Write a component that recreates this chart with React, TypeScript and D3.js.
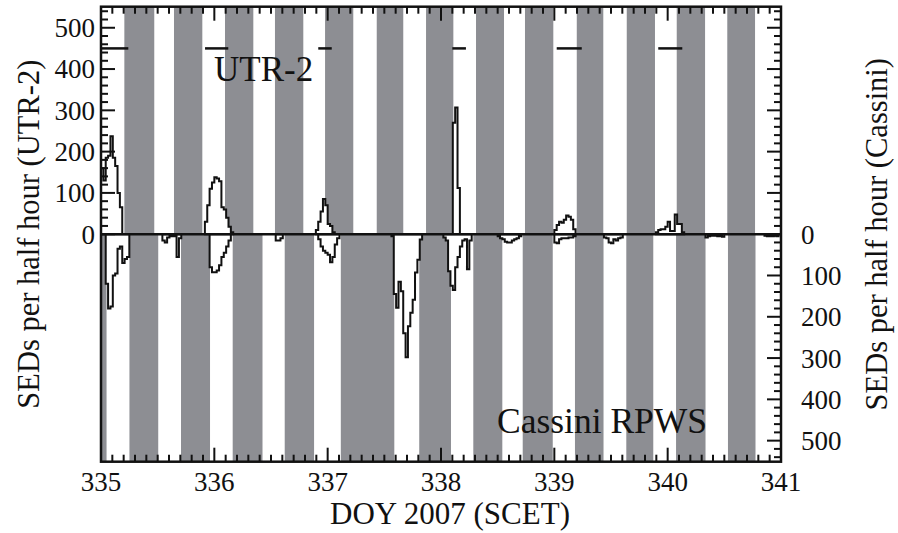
import * as d3 from "d3";

// DOY intervals where the storm is hidden (gray)
const utrGrayStart = [335.206, 335.644, 336.094, 336.535, 336.977, 337.433, 337.868, 338.309, 338.741, 339.198, 339.639, 340.080, 340.526];
const utrGrayEnd = [335.470, 335.894, 336.344, 336.785, 337.226, 337.667, 338.109, 338.556, 338.991, 339.432, 339.888, 340.330, 340.771];
const casGrayStart = [334.95, 335.251, 335.706, 336.162, 336.621, 337.116, 337.808, 338.285, 338.721, 339.182, 339.635, 340.074, 340.532];
const casGrayEnd = [335.049, 335.505, 335.962, 336.425, 336.880, 337.588, 338.088, 338.541, 338.986, 339.434, 339.873, 340.334, 340.775];

// UTR-2 observing windows (drawn at 450)
const obsStart = [334.99, 335.918, 336.917, 338.10, 339.021, 339.917];
const obsEnd = [335.241, 336.123, 337.036, 338.22, 339.242, 340.129];

// half-hour bins, first bin index counted from DOY 335.0
const utrBursts = [
  { bin: 0, values: [160, 130, 185, 190, 237, 185, 165, 100, 65] },
  { bin: 44, values: [30, 70, 110, 125, 138, 135, 128, 65, 60, 40, 18, 5] },
  { bin: 91, values: [10, 30, 55, 85, 70, 25, 20, 5] },
  { bin: 149, values: [270, 307, 112] },
  { bin: 192, values: [10, 22, 30, 28, 35, 45, 42, 35, 12] },
  { bin: 235, values: [5, 10, 12, 12, 18, 30, 8, 8, 48, 25, 25, 5] },
];
const casBursts = [
  { bin: 2, values: [120, 180, 175, 100, 95, 35, 30, 70, 60, 55] },
  { bin: 26, values: [15, 20, 8, 5, 5, 5, 55, 10] },
  { bin: 46, values: [80, 92, 92, 88, 75, 55, 45, 30, 15] },
  { bin: 74, values: [15, 15, 10] },
  { bin: 92, values: [12, 30, 40, 45, 50, 68, 55, 25, 10] },
  { bin: 123, values: [5, 145, 178, 115, 138, 240, 298, 223, 190, 159, 93, 62, 13] },
  { bin: 145, values: [8, 15, 90, 125, 135, 80, 55, 30, 15, 12, 85, 15] },
  { bin: 168, values: [5, 10, 12, 18, 20, 20, 15, 12, 10, 5] },
  { bin: 192, values: [20, 22, 12, 10, 10, 10, 8, 8, 5] },
  { bin: 213, values: [8, 10, 20, 22, 12, 15, 10, 8] },
  { bin: 256, values: [8, 5, 4, 4, 4, 5, 5, 6] },
  { bin: 281, values: [4, 5, 5, 5, 4, 5] },
];

const dayTicks = [335, 336, 337, 338, 339, 340, 341];
const countTicks = [0, 100, 200, 300, 400, 500];

const W = 898, H = 533;
const GRAY = "#8d8e93";
const FONT = "'Liberation Serif', 'Times New Roman', serif";
const BIN = 1 / 48;

export default function App() {
  const x = d3.scaleLinear().domain([335, 341]).range([101, 781]);
  const y = d3.scaleLinear().domain([-551, 551]).range([461.7, 6.7]);
  const y0 = y(0);

  const step = d3.line<[number, number]>()
    .x(d => x(d[0]))
    .y(d => y(d[1]))
    .curve(d3.curveStepAfter);

  const burstPath = (b: { bin: number; values: number[] }, sign: number) => {
    const s = 335 + b.bin * BIN;
    const pts: [number, number][] = [[s, 0]];
    b.values.forEach((v, i) => pts.push([s + i * BIN, sign * v]));
    pts.push([s + b.values.length * BIN, 0]);
    return step(pts) + "Z";
  };

  const clipX = (t: number) => Math.max(x.range()[0], Math.min(x.range()[1], x(t)));

  const minorX = d3.range(0, 61).map(i => 335 + i / 10);
  const minorY = d3.range(-540, 541, 20);

  return (
    <svg width={W} height={H} style={{ position: "absolute", left: 0, top: 0, background: "#fff" }}
      fontFamily={FONT}>
      {utrGrayStart.map((s, i) => (
        <rect key={"ug" + i} x={clipX(s)} y={y(551)} width={clipX(utrGrayEnd[i]) - clipX(s)}
          height={y0 - y(551)} fill={GRAY} />
      ))}
      {casGrayStart.map((s, i) => (
        <rect key={"cg" + i} x={clipX(s)} y={y0} width={clipX(casGrayEnd[i]) - clipX(s)}
          height={y(-551) - y0} fill={GRAY} />
      ))}

      {utrBursts.map((b, i) => (
        <path key={"ub" + i} d={burstPath(b, 1)} fill="#fff" stroke="#111" strokeWidth={2} />
      ))}
      {casBursts.map((b, i) => (
        <path key={"cb" + i} d={burstPath(b, -1)} fill="#fff" stroke="#111" strokeWidth={2} />
      ))}

      <line x1={x(335)} x2={x(341)} y1={y0} y2={y0} stroke="#111" strokeWidth={2.5} />

      {obsStart.map((s, i) => (
        <line key={"ob" + i} x1={clipX(s)} x2={clipX(obsEnd[i])} y1={y(450)} y2={y(450)}
          stroke="#111" strokeWidth={2.5} />
      ))}

      {/* ticks */}
      {minorX.map((t, i) => {
        const major = i % 10 === 0;
        const len = major ? 14 : 7;
        return (
          <g key={"tx" + i} stroke="#111" strokeWidth={2}>
            <line x1={x(t)} x2={x(t)} y1={y(551)} y2={y(551) + len} />
            <line x1={x(t)} x2={x(t)} y1={y(-551)} y2={y(-551) - len} />
          </g>
        );
      })}
      {minorY.filter(v => v >= 0).map(v => (
        <line key={"ly" + v} x1={x(335)} x2={x(335) + (v % 100 === 0 ? 14 : 7)} y1={y(v)} y2={y(v)}
          stroke="#111" strokeWidth={2} />
      ))}
      {minorY.map(v => (
        <line key={"ry" + v} x1={x(341)} x2={x(341) - (v % 100 === 0 ? 14 : 7)} y1={y(v)} y2={y(v)}
          stroke="#111" strokeWidth={2} />
      ))}

      <rect x={x(335)} y={y(551)} width={x(341) - x(335)} height={y(-551) - y(551)}
        fill="none" stroke="#111" strokeWidth={2.5} />

      {/* tick labels */}
      {dayTicks.map(d => (
        <text key={"dl" + d} x={x(d)} y={491} textAnchor="middle" fontSize={27} fill="#111">{d}</text>
      ))}
      {countTicks.map(v => (
        <text key={"ll" + v} x={95} y={y(v)} dy="0.35em" textAnchor="end" fontSize={27} fill="#111">{v}</text>
      ))}
      {countTicks.map(v => (
        <text key={"rl" + v} x={801} y={y(-v)} dy="0.35em" textAnchor="start" fontSize={27} fill="#111">{v}</text>
      ))}

      <text x={450} y={524} textAnchor="middle" fontSize={31} fill="#111">DOY 2007 (SCET)</text>
      <text transform={`translate(39,${y0}) rotate(-90)`} textAnchor="middle" fontSize={30.5} fill="#111">
        SEDs per half hour (UTR-2)
      </text>
      <text transform={`translate(887,${y0}) rotate(-90)`} textAnchor="middle" fontSize={30.5} fill="#111">
        SEDs per half hour (Cassini)
      </text>

      <text x={214} y={81} fontSize={35} fill="#111">UTR-2</text>
      <text x={497} y={433} fontSize={35.5} fill="#111">Cassini RPWS</text>
    </svg>
  );
}
